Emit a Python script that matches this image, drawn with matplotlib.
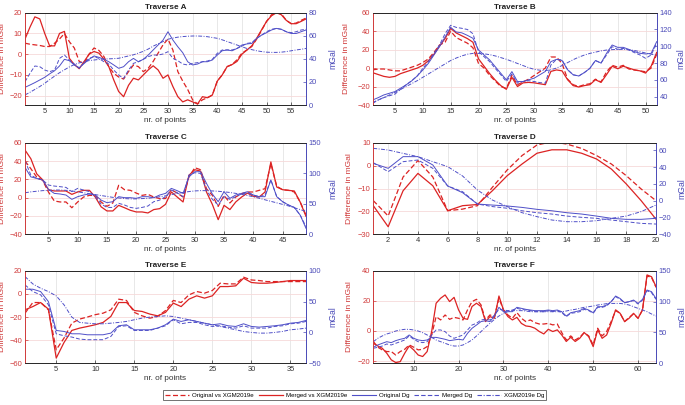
import matplotlib
matplotlib.use("Agg")
import matplotlib.pyplot as plt
from matplotlib.lines import Line2D

plt.rcParams['font.family'] = ['Liberation Sans', 'DejaVu Sans']

# ---------------- data ----------------
titles = ["Traverse A", "Traverse B", "Traverse C", "Traverse D", "Traverse E", "Traverse F"]
legend_labels = ["Original vs XGM2019e", "Merged vs XGM2019e", "Original Dg", "Merged Dg", "XGM2019e Dg"]

a_orig = [5.3,4.8,4.5,4.2,3.7,3.7,5.3,7.3,10,6,3,-3.5,-4.4,0,3,1.8,-1.1,-6,-9.2,-11,-12,-8.4,-5.2,-6,-8.4,-6.8,-3.5,0.5,4.5,7.3,2,-8.4,-13,-17,-22,-24,-22,-21,-19.7,-13,-10,-6,-5,-2.7,0.5,2,3.7,7.3,11.5,15.8,19,20,19.5,16.3,14.7,15,16.3,17.4]
a_merged = [7.3,13,18,17,10,4,4,10,11,-2,-5,-7,-3.5,0,1.3,0.5,-2.4,-6,-12.4,-18,-20.5,-15,-11.6,-12.4,-10,-7.6,-5.6,-7.6,-11.6,-10,-15.6,-20.5,-23,-22,-23,-24,-20.5,-21,-19.7,-13,-10,-6,-5,-3.5,0,2,4,7.7,11.8,15.8,18.5,20,19,16.3,14.7,14.7,15.8,17]
a_odg = [15.3,17.3,19.4,21.7,24,27,29.7,33.8,39.6,38.4,34.7,32.3,36,39.6,42.5,41.3,39.6,37.5,34.7,31.8,33.2,37.5,40.4,37.5,39.6,43.3,47.7,52,56.3,63.5,56.3,50.5,45.3,37.5,34.7,35.5,37.5,37.5,39,43.3,47,47.7,47,49,52,52.9,53.4,57.8,60.6,62.7,65,66.4,65.6,63.5,62,62,63.5,65]
a_mdg = [20.2,27.4,33.8,33.2,30.3,28.9,30.3,40.4,43.3,39,35.5,31.8,36.7,40.4,41.9,40.4,37.5,35.5,30.3,26,23.1,30.3,36.1,37.5,39.6,41.9,43.3,43.3,44.2,46.2,40.4,38.4,35.5,34.7,36.1,36.7,37.5,38.1,39.6,44.8,47.7,47.7,47.7,49,51,53.4,54,57.8,60.6,63.5,65.6,66.4,65.6,63.5,62.7,63.5,65,65.6]
a_xdg = [8.7,11,13.5,16,18.8,22,25,28,30.5,33,35,36.5,37.5,38.5,39,39.5,39.8,40,40.2,40.5,41.5,42.5,43.5,45,46.5,48.5,51,53,55,57,58,58.8,59.3,59.6,59.8,59.8,59.6,59.2,58.5,57.8,56.5,55,53.5,52,50.5,49,48,47,46.3,45.8,45.6,45.6,45.8,46.3,47,47.7,48.3,49]

b_orig = [-2,-1,-1,-2,-3,-3,-1,1,3,6,10,17,25,28,40,33,30,27,22,5,0,-8,-14,-20,-22,-8,-18,-15,-12,-8,-4,0,12,12,5,-12,-18,-20,-18,-17,-12,-15,-4,3,1,3,-1,-2,-3,-4,0,15]
b_merged = [-5,-7,-9,-10,-9,-6,-4,-2,0,3,8,15,24,32,43,38,35,32,28,10,2,-6,-13,-19,-23,-10,-20,-16,-15.5,-16,-17,-18,-3.6,-2,-3,-12.6,-19,-20.5,-19,-18,-12.6,-15.5,-7,2,-0.7,2,0,-2,-3,-5.4,2,17]
b_odg = [36,38.8,42,44,46,50,54,58.7,64.6,71.7,79.7,89.6,99.5,111,122.5,117,116,113,109.5,95.6,89.6,83.7,75.7,67.8,60,69.8,58,58,60,62,66,70,81.7,84.4,83,72,66,64.6,68.6,73.7,83,80,91.6,101.5,98.7,98.7,96.3,93.6,91.6,90.8,91.6,105.5]
b_mdg = [32,36,38.8,41,43,48.7,54,59,64.6,73.7,81.7,91.6,101.5,115,125,122.5,121.4,120,115,93.6,87.6,81.7,73.7,66,58,67,56,58,59,58,56.7,56,77.7,84.4,83.7,72,66,64.6,68.6,73.7,83,80,89.6,99.5,96.3,97.5,95.6,92.4,89.6,85.6,89.6,103.5]
b_xdg = [33,36,39,42,45,48.5,52,55.5,59,63,67,71,75,79,83,86,88.5,90.5,91.5,91.5,91,90,88.5,86.5,84.5,82,79.5,77,74.5,72.5,71.5,71,72,74,77,80.5,84,87,89.5,91.5,93,94.5,95.5,96,96.3,96.3,95.8,95,93.5,92,90.5,89.5]

c_orig = [40,31.6,22.5,19,6.2,-3.6,-4.7,-4.7,-11,-4.7,0.7,2.5,2.5,-4.7,-9.5,-5.8,13.5,8.7,8,5,2.5,3.6,0.7,-1,-1,8.7,5,0.7,22.5,32.7,30.5,9.8,2.5,-9.5,2.5,-5.8,0.7,4.4,6.2,6.2,8,9.8,37,12.4,8.7,8,6.2,-4.7,-19]
c_merged = [52,42.5,26,19.6,8.7,7.3,7.3,7.3,3.6,6.2,8,8,0.7,-10,-14.5,-14.5,-8.4,-11,-13.8,-15.6,-15.6,-16.7,-13,-12,-7.3,6.2,0.7,-4.7,24.4,30.5,29,6.2,-7.3,-24,-8.4,-13,-4.7,0.7,5,1.5,0.7,6.2,39,11.6,8.7,8,7.3,-4.7,-20.4]
c_odg = [109.5,94,91.5,89,73.6,67,66,64.3,57.2,61.6,64.3,66,64.3,56,51.8,53.4,61.6,60,60,58.9,61.6,61.6,60,64.3,67,75.2,71.4,67,94,102.5,102.5,83.4,66,53.4,69.8,58.9,64.3,67,69.8,64.3,61.6,61.6,89,61.6,53.4,48,44,31.6,9.8]
c_mdg = [120.4,97,91.5,89,80.7,79,78,76.8,69.8,75.2,72.5,69.8,61.6,49.6,44,44,50.7,48,44,42.5,44,46.3,53.4,56,61.6,72.5,68,61.6,97,100.8,99.7,72.5,57.2,48,61.6,57.2,61.6,66,68,64.3,61.6,64.3,89,61.6,53.4,48,44,31.6,12.5]
c_xdg = [68,69.5,70.5,71.5,72,72.5,72.5,72,71,69.5,68,66.5,65,63.5,62,60.5,59.5,58.5,58,58,58.5,59,60,61.5,63,65,67,68.5,70,71,71.5,71.5,71,70.5,69.5,68.5,67,65.5,63.5,61.5,59,56.5,54,51.5,49,46.5,43.5,40.5,37.5]

d_orig = [-15.3,-22,-5,2.2,-5,-19.7,-19,-17.5,-9.5,-1.9,4.4,9,10.4,9.4,7.5,4.4,0.7,-4.4,-10.2,-15.3]
d_merged = [-17.5,-26.7,-11,-3.4,-8.8,-19.7,-17.5,-17,-11,-4.4,0.7,5.4,6.9,6.9,5.4,2.9,-1.5,-8,-15.3,-23.4]
d_odg = [44.4,38.5,52.4,52.4,42.5,17.5,9.5,-4,-5.2,-6.3,-8,-10.3,-12,-14.3,-15.9,-18.3,-21,-22.2,-22.2,-21]
d_mdg = [45.2,34.5,46.4,48.4,38.5,17.5,10.7,-4,-7,-9,-12,-14.3,-15.9,-18.3,-19.8,-21,-23,-25,-27,-27.8]
d_xdg = [62.3,60.3,56.3,52.4,46.4,40.5,29.4,12.7,0.8,-7,-14.3,-19,-23,-25,-25,-23.8,-21,-18.3,-13,-5.2]

e_orig = [-16.7,-7.5,-7.5,-13.8,-48.3,-38.2,-25.3,-21.8,-20,-18,-16.7,-13.8,-4.6,-5.7,-16,-19,-21,-19.5,-14.4,-5.7,-7.5,-0.9,2,0.6,2.9,9.2,8.6,8.6,14.4,12,11.5,10.6,10.6,10.6,10.6,10.6,10.6]
e_merged = [-13.8,-11,-7.5,-13.2,-55.5,-42,-31.6,-29.6,-28.2,-26.7,-24.7,-19.5,-7.5,-7.5,-14.4,-15.2,-17.5,-19,-16,-8,-11,-4.6,-1.7,-3.7,-1.7,6.3,6.3,6.9,13.5,9.8,9.2,9.2,9.8,10.6,11.5,11.5,11.5]
e_odg = [70,70,66.2,50,3.2,1.6,-2.2,-2.2,-3.8,-3.8,-3.8,-1.1,10.8,12.4,4.3,4.3,4.3,7,12.4,21.5,17.8,20.5,17.8,15,12.4,14,10.8,9.7,14,9.7,8.6,9.7,10.8,12.4,15,16.2,19.4]
e_mdg = [77,66.2,60.9,44.7,-2.2,-5.4,-7.5,-10.8,-11.8,-11.8,-11.8,-6.5,9.7,10.8,3.2,3.2,3.2,7,10.8,20.5,14,16.2,16.2,12.4,9.7,10.8,8.6,7,10.8,7,7,7,9.7,10.8,14,15,17.8]
e_xdg = [90.5,78.6,71.6,66.2,59.2,44.7,24.8,16.2,15,14,14,15,16.2,17.8,20.5,23.2,24.8,25.8,26.9,25.8,23.2,20.5,17.8,15,12.4,9.7,7,4.3,1.6,0,-1.1,-1.1,0,1.6,4.3,5.4,7]

f_orig = [-7,-10.8,-12.6,-13.7,-13.7,-16,-13.7,-12.2,-9.3,-10.8,-12.6,-12.2,-10.4,-2.7,9.5,7.3,10.6,7.7,9,8.4,7.3,14,19.5,21,17.3,7.3,10.6,9.5,21.7,14,10.6,8.4,12.2,8.4,6.2,7.3,5.5,4.6,4.6,5,4,4.6,-1.1,-6,-3.3,-6,-4.2,-1.1,-3.3,-9.3,1.8,-3.3,-0.4,6.2,13.5,11.7,6.2,9,11.3,8.4,14,36.5,35.6,29]
f_merged = [-8.2,-10,-11.5,-14.8,-19.2,-21,-20.4,-14.8,-10,-12.6,-16,-17,-13.7,-0.4,18.4,21.7,23.9,19.5,22.3,14,8.4,7.7,16.2,18.4,16.2,6.2,9.5,8.4,23.2,14,9.5,7.3,9,5,3.3,2.9,1.8,-0.4,-2,1.1,-0.4,0.7,-2.7,-7,-4.2,-7,-4.9,-1.1,-3.8,-10.4,0.7,-4.9,-2.7,5,14,11.7,6.2,8.4,11.7,8.4,14,37.2,36,29.4]
f_odg = [25.9,29.7,32.4,35,33.5,36.7,38.9,40.5,45.9,40.5,37.8,36.7,37.8,42,42,40.5,38.9,36.7,37.8,38.9,37.8,48.6,56.7,62,67.5,69,67.5,76.6,90.7,83.6,83.6,83.6,90.7,89,87.4,86.3,85.3,85.3,85.3,86.3,85.3,86.3,83.6,76.6,82,83.6,85.3,89,86.3,82,91.7,91.7,94.4,99.8,109,105,98.2,99.8,102.5,97,103.6,118.7,116,105]
f_mdg = [24.3,25.9,28,31.3,29.7,32.4,35,37.8,44.3,38.9,35,33.5,35,45.9,54,54,51.3,44.3,40.5,43.2,45.9,54,62,64.8,70.2,71.2,70.2,78.2,87.4,86.3,85.3,86.3,89,87.4,86.3,85.3,83.6,83.6,83.6,85.3,83.6,85.3,82,75.5,81,82,83.6,87.4,85.3,81,90.7,90.7,92.8,99.8,108,103.6,98.2,99.8,101.5,96,102.5,117.6,114.4,103.6]
f_xdg = [35,40.5,44.3,47.5,49.6,52.3,54,55,55,54,52.3,49.6,45.9,42,37.8,35,32.4,29.7,28,28,29.7,33.5,37.8,44.3,51.3,58.3,64.8,71.2,76.6,81,83.6,85.3,85.3,85.3,84.7,83.6,83.6,83.6,83.6,83.6,83.6,83.6,83.6,84.7,86.3,87.4,89,90.7,91.7,92.8,94.4,95.5,96.6,97,97,97,96,94.4,91.7,89,86.3,83.6,79.9,76.6]

panels = [
    (a_orig, a_merged, a_odg, a_mdg, a_xdg),
    (b_orig, b_merged, b_odg, b_mdg, b_xdg),
    (c_orig, c_merged, c_odg, c_mdg, c_xdg),
    (d_orig, d_merged, d_odg, d_mdg, d_xdg),
    (e_orig, e_merged, e_odg, e_mdg, e_xdg),
    (f_orig, f_merged, f_odg, f_mdg, f_xdg),
]
left_lims = [(-24.5, 20), (-40, 60), (-40, 60), (-30, 10), (-60, 20), (-21.5, 40)]
left_ticks = [[-20, -10, 0, 10, 20], [-40, -20, 0, 20, 40, 60], [-40, -20, 0, 20, 40, 60],
              [-30, -20, -10, 0, 10], [-60, -40, -20, 0, 20], [-20, 0, 20, 40]]
right_lims = [(0, 80), (30, 140), (0, 150), (-40, 69), (-50, 100), (0, 150)]
right_ticks = [[0, 20, 40, 60, 80], [40, 60, 80, 100, 120, 140], [0, 50, 100, 150],
               [-40, -20, 0, 20, 40, 60], [-50, 0, 50, 100], [0, 50, 100, 150]]
x_ticks = [list(range(5, 56, 5)), list(range(5, 51, 5)), list(range(5, 46, 5)),
           list(range(2, 21, 2)), list(range(5, 36, 5)), list(range(10, 61, 10))]

# ---------------- style ----------------
RED = '#dc2323'
BLUE = '#4f4fc8'
RED_T = '#d03a3a'
BLUE_T = '#4a4ab8'
DASH = (0, (4, 2))
DASHDOT = (0, (4, 1.5, 1, 1.5))

W, H = 685, 405
def pos(l, r, t, b):
    return [l / W, 1 - b / H, (r - l) / W, (b - t) / H]

boxes = [pos(25, 306, 12.7, 105), pos(372.7, 656.7, 12.7, 105),
         pos(25, 306, 142.7, 234.3), pos(373.3, 656, 142.7, 234.3),
         pos(25, 306, 270.7, 363.3), pos(373.3, 656, 270.7, 363.3)]
ylab_left_x = [-0.066, -0.080, -0.066, -0.072, -0.066, -0.072]
ylab_right_x = [1.078, 1.071, 1.078, 1.074, 1.078, 1.074]

fig = plt.figure(figsize=(6.85, 4.05), dpi=100)

for i, (orig, merged, odg, mdg, xdg) in enumerate(panels):
    ax = fig.add_axes(boxes[i])
    x = list(range(1, len(orig) + 1))
    ax.plot(x, orig, color=RED, lw=0.9, ls=DASH)
    ax.plot(x, merged, color=RED, lw=0.9, ls='-')
    ax.set_xlim(1, len(orig))
    ax.set_ylim(*left_lims[i])
    ax.set_yticks(left_ticks[i])
    ax.set_xticks(x_ticks[i])
    for t in x_ticks[i]:
        ax.axvline(t, color='#e4e4e4', lw=0.6, zorder=0)
    for t in left_ticks[i]:
        ax.axhline(t, color='#f6d9d9', lw=0.6, zorder=0)
    ax.tick_params(axis='both', direction='in', length=2, width=0.5, labelsize=5.4, pad=2)
    ax.tick_params(axis='y', colors=RED_T)
    ax.tick_params(axis='x', colors='#333333')
    ax.set_ylabel('Difference in mGal', color=RED_T, fontsize=6.1)
    ax.yaxis.set_label_coords(ylab_left_x[i], 0.5)
    ax.set_xlabel('nr. of points', color='#333333', fontsize=5.9, labelpad=1.5)
    ax.set_title(titles[i], fontsize=5.9, fontweight='bold', pad=2.5, color='#222222')

    ax2 = ax.twinx()
    ax2.plot(x, odg, color=BLUE, lw=0.7, ls='-')
    ax2.plot(x, mdg, color=BLUE, lw=0.7, ls=DASH)
    ax2.plot(x, xdg, color=BLUE, lw=0.7, ls=DASHDOT)
    ax2.set_ylim(*right_lims[i])
    ax2.set_yticks(right_ticks[i])
    ax2.tick_params(axis='y', direction='in', length=2, width=0.5, labelsize=5.4, pad=2, colors=BLUE_T)
    ax2.set_ylabel('mGal', color=BLUE_T, fontsize=6.2)
    ax2.yaxis.set_label_coords(ylab_right_x[i], 0.5)

    for a in (ax, ax2):
        a.spines['top'].set_color('#262626')
        a.spines['bottom'].set_color('#262626')
        a.spines['left'].set_color(RED_T)
        a.spines['right'].set_color(BLUE_T)
        for s in a.spines.values():
            s.set_linewidth(0.6)

handles = [Line2D([], [], color=RED, lw=0.9, ls=DASH),
           Line2D([], [], color=RED, lw=0.9, ls='-'),
           Line2D([], [], color=BLUE, lw=0.8, ls='-'),
           Line2D([], [], color=BLUE, lw=0.8, ls=DASH),
           Line2D([], [], color=BLUE, lw=0.8, ls=DASHDOT)]
leg = fig.legend(handles, legend_labels, loc='center', bbox_to_anchor=(354.5 / W, 1 - 395 / H),
                 ncol=5, fontsize=4.4, frameon=True, fancybox=False, edgecolor='#333333',
                 borderpad=0.35, handlelength=4.0, columnspacing=0.8, handletextpad=0.45)
leg.get_frame().set_linewidth(0.6)

fig.savefig('out.png', dpi=100, facecolor='white')
